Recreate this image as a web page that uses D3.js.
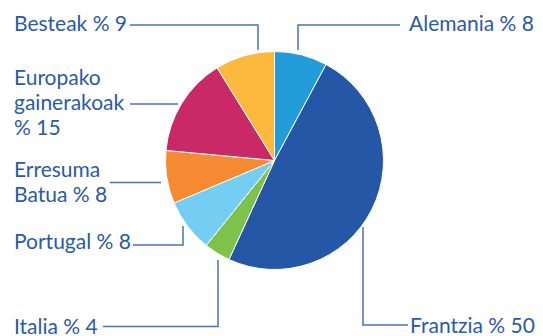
<!DOCTYPE html>
<html>
<head>
<meta charset="utf-8">
<script src="https://cdn.jsdelivr.net/npm/d3@7"></script>
<style>
  html, body { margin: 0; padding: 0; background: #fff; }
  svg { display: block; }
</style>
</head>
<body>
<div id="chart"></div>
<script>
// slices, clockwise from 12 o'clock
const countries = ["Alemania", "Frantzia", "Italia", "Portugal", "Erresuma Batua", "Europako gainerakoak", "Besteak"]
const shares = [8, 50, 4, 8, 8, 15, 9]
const labelLines = [["Alemania % 8"], ["Frantzia % 50"], ["Italia % 4"], ["Portugal % 8"],
                    ["Erresuma", "Batua % 8"], ["Europako", "gainerakoak", "% 15"], ["Besteak % 9"]]
const colors = ["#239dd9", "#2458a7", "#7cc24b", "#74cdf2", "#f58a32", "#c92a67", "#fdb93e"]

const width = 543, height = 336
const cx = 274.5, cy = 160.5, radius = 109
const textColor = "#2b5aa6", lineColor = "#4a72b8"
const lineHeight = 25

// callout layout: text anchor + leader polyline (page coords)
const callouts = [
    { tx: 409, ty: 23, anchor: "start", path: [[400, 25], [298, 25], [298, 50]] },
    { tx: 410, ty: 325, anchor: "start", path: [[363, 227], [363, 325], [408, 325]] },
    { tx: 14, ty: 326, anchor: "start", path: [[103, 326.5], [218, 326.5], [218, 260]] },
    { tx: 14, ty: 241.5, anchor: "start", path: [[133, 245], [183, 245], [183, 226]] },
    { tx: 14, ty: 182, anchor: "start", path: [[110, 182.5], [161, 182.5]] },
    { tx: 14, ty: 102.5, anchor: "start", path: [[130, 104], [178, 104]] },
    { tx: 14, ty: 23.5, anchor: "start", path: [[130, 25], [258, 25], [258, 50]] }
]

const svg = d3.select("#chart").append("svg")
    .attr("width", width)
    .attr("height", height)
    .attr("viewBox", [0, 0, width, height])

const pie = d3.pie().sort(null).value(d => d)
const arc = d3.arc().innerRadius(0).outerRadius(radius)

svg.append("g")
    .attr("transform", `translate(${cx},${cy})`)
  .selectAll("path")
  .data(pie(shares))
  .join("path")
    .attr("d", arc)
    .attr("fill", (d, i) => colors[i])
    .attr("stroke", "#fff")
    .attr("stroke-width", 1)

// leader lines
svg.append("g")
  .selectAll("path")
  .data(callouts)
  .join("path")
    .attr("d", d => d3.line()(d.path))
    .attr("fill", "none")
    .attr("stroke", lineColor)
    .attr("stroke-width", 1.5)

// labels, block vertically centred on ty
const labels = svg.append("g")
    .attr("font-family", "Lato, 'Open Sans', sans-serif")
    .attr("font-size", 21)
    .attr("fill", textColor)

labels.selectAll("text")
  .data(callouts)
  .join("text")
    .attr("text-anchor", d => d.anchor)
    .each(function(d, i) {
        const lines = labelLines[i]
        const firstBaseline = d.ty + 7.5 - (lines.length - 1) * lineHeight / 2
        d3.select(this).selectAll("tspan")
          .data(lines)
          .join("tspan")
            .attr("x", d.tx)
            .attr("y", (l, j) => firstBaseline + j * lineHeight)
            .text(l => l)
    })
</script>
</body>
</html>
